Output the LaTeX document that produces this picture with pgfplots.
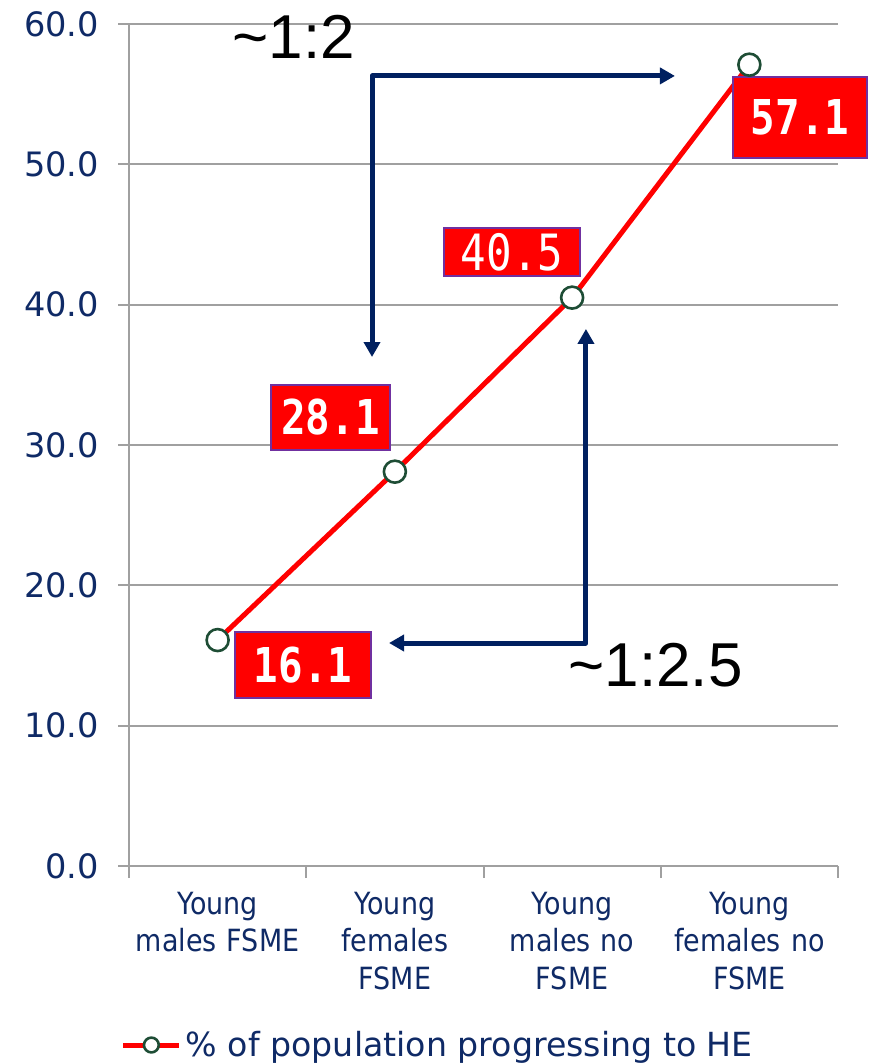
\documentclass[border=0pt]{standalone}
\usepackage{pgfplots}
\pgfplotsset{compat=1.18}
\usepackage{graphicx}
\usepackage{fontspec}
\setmainfont{DejaVu Sans}
\newfontfamily\condfont[FakeStretch=0.88]{DejaVu Sans}
\newfontfamily\arialfont{Liberation Sans}
\newfontfamily\monofont{DejaVu Sans Mono}
\usetikzlibrary{arrows.meta}
\definecolor{navy}{HTML}{0F2A66}
\definecolor{arrownavy}{HTML}{002060}
\definecolor{gridgray}{HTML}{A0A0A0}
\definecolor{mkgreen}{HTML}{1E4D35}
\definecolor{boxpurple}{HTML}{7030A0}

\tikzset{valbox/.style={fill=red, draw=boxpurple, line width=1pt, inner sep=0pt,
  text=white, font=\monofont\bfseries\fontsize{24}{24}\selectfont}}

\begin{document}
\begin{tikzpicture}
\begin{axis}[
  at={(0,0)}, anchor=south west,
  scale only axis, width=354.5pt, height=421pt,
  xmin=0, xmax=4, ymin=0, ymax=60,
  clip=false,
  axis lines*=left,
  axis line style={gridgray, line width=1pt},
  xtick={0.5,1.5,2.5,3.5},
  xticklabels={Young\\males FSME, Young\\females\\FSME, Young\\males no\\FSME, Young\\females no\\FSME},
  minor xtick={0,1,2,3,4},
  ytick={0,10,...,60},
  tick align=outside,
  major x tick style={draw=none},
  minor x tick style={gridgray, line width=1pt},
  ytick style={gridgray, line width=1pt},
  major tick length=5.5pt,
  minor tick length=6pt,
  ymajorgrids,
  grid style={gridgray, line width=1pt},
  xticklabel style={font=\condfont\fontsize{15.3}{18.75}\selectfont, text=navy,
    text width=90pt, align=center, anchor=north, yshift=-4pt},
  yticklabel style={font=\fontsize{16.8}{18}\selectfont, text=navy, xshift=-6pt},
  /pgf/number format/.cd, fixed, fixed zerofill, precision=1, assume math mode=true,
  /pgfplots/.cd,
  legend style={at={(axis description cs:0.437,-0.2126)}, anchor=center, draw=none,
    font=\fontsize{16.6}{18}\selectfont, text=navy, inner sep=0pt},
  legend image code/.code={
    \draw[#1] (0pt,0pt) -- (28pt,0pt);
    \draw[#1, mark size=3.7pt] plot coordinates {(14pt,0pt)};
  },
]
\addplot[red, line width=2.5pt, mark=*, mark size=5.5pt,
  mark options={fill=white, draw=mkgreen, line width=1.3pt}]
  coordinates {(0.5,16.1) (1.5,28.1) (2.5,40.5) (3.5,57.1)};
\addlegendentry{\% of population progressing to HE}

% ratio arrows
\draw[arrownavy, line width=2.5pt, line join=round,
  {Triangle[length=7.5pt,width=8pt]}-{Triangle[length=7.5pt,width=8pt]}]
  (axis cs:3.08,56.3) -- (axis cs:1.371,56.3) -- (axis cs:1.371,36.27);
\draw[arrownavy, line width=2.5pt, line join=round,
  {Triangle[length=7.5pt,width=8pt]}-{Triangle[length=7.5pt,width=8pt]}]
  (axis cs:2.578,38.27) -- (axis cs:2.578,15.89) -- (axis cs:1.467,15.89);
\node[font=\arialfont\fontsize{31}{36}\selectfont] at (axis cs:0.93,59.07) {\textasciitilde1:2};
\node[font=\arialfont\fontsize{31}{36}\selectfont] at (axis cs:2.97,14.32) {\textasciitilde1:2.5};

% value labels
\node[valbox, minimum width=68pt, minimum height=33pt] at (axis cs:0.982,14.32) {\scalebox{0.85}[1]{16.1}};
\node[valbox, minimum width=59.5pt, minimum height=32.5pt] at (axis cs:1.137,31.96) {\scalebox{0.85}[1]{28.1}};
\node[valbox, minimum width=68pt, minimum height=24pt, font=\monofont\fontsize{25}{25}\selectfont] at (axis cs:2.161,43.75) {\scalebox{0.85}[1]{40.5}};
\node[valbox, minimum width=67pt, minimum height=40.5pt] at (axis cs:3.786,53.34) {\scalebox{0.85}[1]{57.1}};
\end{axis}
\pgfresetboundingbox
\path[use as bounding box] (-64.5pt,-99pt) rectangle (371.5pt,433pt);
\end{tikzpicture}
\end{document}
